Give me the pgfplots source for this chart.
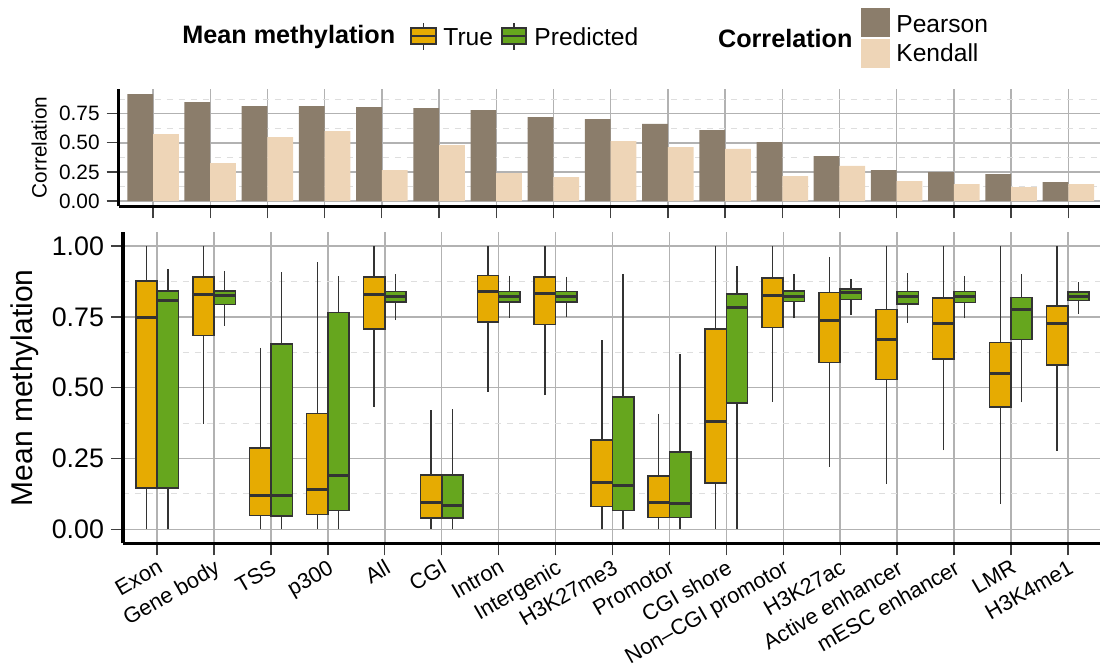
\documentclass[border=0pt]{standalone}
\usepackage{fontspec}
\setmainfont{Liberation Sans}
\usepackage{pgfplots}
\pgfplotsset{compat=1.18}
\usepgfplotslibrary{statistics}
\definecolor{trueC}{HTML}{E6AB02}
\definecolor{predC}{HTML}{66A61E}
\definecolor{pearsonC}{HTML}{8B7D6B}
\definecolor{kendallC}{HTML}{EED5B7}
\definecolor{boxline}{HTML}{333333}
\newcommand{\bx}[7]{\addplot[boxplot prepared={draw direction=y, draw position=#1, lower whisker=#2, lower quartile=#3, median=#4, upper quartile=#5, upper whisker=#6, box extend=0.375, whisker extend=0}, draw=boxline, fill=#7, line width=0.8pt, solid] coordinates {};}
\pgfplotsset{
  gg/.style={
    scale only axis,
    xmin=-0.6, xmax=16.6,
    axis lines*=left,
    axis line style={-, line width=1.65pt, black},
    xtick={0,...,16},
    grid=both,
    major grid style={black!30, line width=0.7pt},
    minor grid style={black!13, dashed, line width=0.5pt},
    tick align=outside,
    major tick length=6pt,
    minor tick length=0pt,
    tick style={black!75, line width=0.65pt},
    /pgf/number format/assume math mode=true,
  }
}
\begin{document}
\begin{tikzpicture}
\useasboundingbox (0,0) rectangle (550pt,333.5pt);
% ---------- top panel: correlation bars ----------
\begin{axis}[gg,
  at={(59.35pt,230.3pt)}, anchor=south west,
  width=491.95pt, height=58.9pt,
  ymin=-0.046, ymax=0.966,
  ytick={0,0.25,0.5,0.75}, yticklabels={0.00,0.25,0.50,0.75},
  minor ytick={0.125,0.375,0.625,0.875},
  xticklabels={},
  yticklabel style={font=\fontsize{10.4}{12}\selectfont},
  every axis y label/.style={at={(rel axis cs:-0.0808,0.5)}, rotate=90, anchor=center, font=\fontsize{10.4}{12}\selectfont},
  ylabel={Correlation},
]
\addplot[ybar, bar width=0.45, bar shift=-0.225, fill=pearsonC, draw=none] coordinates {
(0,0.919) (1,0.850) (2,0.816) (3,0.816) (4,0.807) (5,0.799) (6,0.781) (7,0.721) (8,0.704)
(9,0.662) (10,0.610) (11,0.507) (12,0.386) (13,0.266) (14,0.249) (15,0.232) (16,0.163)};
\addplot[ybar, bar width=0.45, bar shift=0.225, fill=kendallC, draw=none] coordinates {
(0,0.575) (1,0.326) (2,0.550) (3,0.601) (4,0.266) (5,0.481) (6,0.240) (7,0.206) (8,0.515)
(9,0.464) (10,0.447) (11,0.215) (12,0.301) (13,0.172) (14,0.146) (15,0.120) (16,0.146)};
\end{axis}
% ---------- bottom panel: boxplots ----------
\begin{axis}[gg,
  at={(61.5pt,61.75pt)}, anchor=south west,
  width=489.5pt, height=155.75pt,
  ymin=-0.05, ymax=1.05,
  ytick={0,0.25,0.5,0.75,1}, yticklabels={0.00,0.25,0.50,0.75,1.00},
  minor ytick={0.125,0.375,0.625,0.875},
  xticklabels={Exon,Gene body,TSS,p300,All,CGI,Intron,Intergenic,H3K27me3,Promotor,CGI shore,Non--CGI promotor,H3K27ac,Active enhancer,mESC enhancer,LMR,H3K4me1},
  xticklabel style={rotate=30, anchor=north east, font=\fontsize{10.9}{12}\selectfont, inner sep=1pt},
  yticklabel style={font=\fontsize{13.4}{16}\selectfont},
  every axis y label/.style={at={(rel axis cs:-0.1001,0.5)}, rotate=90, anchor=center, font=\fontsize{15}{18}\selectfont},
  ylabel={Mean methylation},
  boxplot/draw direction=y,
  boxplot/every median/.style={line width=1.5pt},
  boxplot/every whisker/.style={line width=0.7pt},
]
\bx{-0.1875}{0}{0.147}{0.748}{0.876}{1.0}{trueC}
\bx{0.1875}{0}{0.147}{0.808}{0.842}{0.918}{predC}
\bx{0.8125}{0.372}{0.684}{0.831}{0.892}{1.0}{trueC}
\bx{1.1875}{0.719}{0.794}{0.825}{0.842}{0.913}{predC}
\bx{1.8125}{0}{0.049}{0.118}{0.287}{0.642}{trueC}
\bx{2.1875}{0}{0.048}{0.118}{0.654}{0.908}{predC}
\bx{2.8125}{0}{0.052}{0.140}{0.409}{0.943}{trueC}
\bx{3.1875}{0}{0.066}{0.189}{0.766}{0.893}{predC}
\bx{3.8125}{0.431}{0.708}{0.831}{0.892}{1.0}{trueC}
\bx{4.1875}{0.739}{0.802}{0.821}{0.840}{0.901}{predC}
\bx{4.8125}{0}{0.040}{0.094}{0.192}{0.421}{trueC}
\bx{5.1875}{0}{0.040}{0.085}{0.192}{0.424}{predC}
\bx{5.8125}{0.486}{0.733}{0.840}{0.896}{1.0}{trueC}
\bx{6.1875}{0.747}{0.803}{0.822}{0.840}{0.896}{predC}
\bx{6.8125}{0.473}{0.724}{0.833}{0.892}{1.0}{trueC}
\bx{7.1875}{0.749}{0.803}{0.822}{0.840}{0.892}{predC}
\bx{7.8125}{0}{0.080}{0.166}{0.315}{0.667}{trueC}
\bx{8.1875}{0}{0.066}{0.154}{0.468}{0.902}{predC}
\bx{8.8125}{0}{0.042}{0.096}{0.189}{0.409}{trueC}
\bx{9.1875}{0}{0.042}{0.092}{0.273}{0.618}{predC}
\bx{9.8125}{0}{0.163}{0.381}{0.708}{1.0}{trueC}
\bx{10.1875}{0}{0.447}{0.785}{0.831}{0.929}{predC}
\bx{10.8125}{0.450}{0.713}{0.827}{0.888}{1.0}{trueC}
\bx{11.1875}{0.745}{0.805}{0.823}{0.841}{0.901}{predC}
\bx{11.8125}{0.221}{0.589}{0.739}{0.836}{0.962}{trueC}
\bx{12.1875}{0.756}{0.812}{0.838}{0.849}{0.885}{predC}
\bx{12.8125}{0.160}{0.529}{0.669}{0.776}{1.0}{trueC}
\bx{13.1875}{0.729}{0.795}{0.823}{0.840}{0.904}{predC}
\bx{13.8125}{0.279}{0.602}{0.727}{0.816}{1.0}{trueC}
\bx{14.1875}{0.745}{0.801}{0.821}{0.840}{0.895}{predC}
\bx{14.8125}{0.089}{0.433}{0.552}{0.660}{1.0}{trueC}
\bx{15.1875}{0.448}{0.671}{0.777}{0.818}{0.900}{predC}
\bx{15.8125}{0.276}{0.581}{0.728}{0.788}{1.0}{trueC}
\bx{16.1875}{0.762}{0.808}{0.822}{0.838}{0.873}{predC}
\end{axis}
% ---------- legends ----------
\begin{scope}[x=1pt,y=1pt]
\node[anchor=west, inner sep=0pt, font=\fontsize{12.6}{15}\selectfont\bfseries] at (91,315) {Mean methylation};
\draw[boxline, line width=0.7pt] (211.75,308.5) -- (211.75,321.85);
\draw[boxline, fill=trueC, line width=0.8pt] (205.5,311.5) rectangle (218,319.35);
\draw[boxline, line width=1.3pt] (205.5,315.4) -- (218,315.4);
\node[anchor=west, inner sep=0pt, font=\fontsize{12.3}{15}\selectfont] at (221.5,315) {True};
\draw[boxline, line width=0.7pt] (256.9,308.5) -- (256.9,321.85);
\draw[boxline, fill=predC, line width=0.8pt] (250.85,311.5) rectangle (263,319.35);
\draw[boxline, line width=1.3pt] (250.85,315.4) -- (263,315.4);
\node[anchor=west, inner sep=0pt, font=\fontsize{12.3}{15}\selectfont] at (267,315) {Predicted};
\node[anchor=west, inner sep=0pt, font=\fontsize{12.6}{15}\selectfont\bfseries] at (358.85,314.3) {Correlation};
\fill[pearsonC] (430.5,315.15) rectangle (445,329.65);
\fill[kendallC] (430.5,299.65) rectangle (445,314);
\node[anchor=west, inner sep=0pt, font=\fontsize{12.3}{15}\selectfont] at (448,321.5) {Pearson};
\node[anchor=west, inner sep=0pt, font=\fontsize{12.3}{15}\selectfont] at (448,306.9) {Kendall};
\end{scope}
\end{tikzpicture}
\end{document}
